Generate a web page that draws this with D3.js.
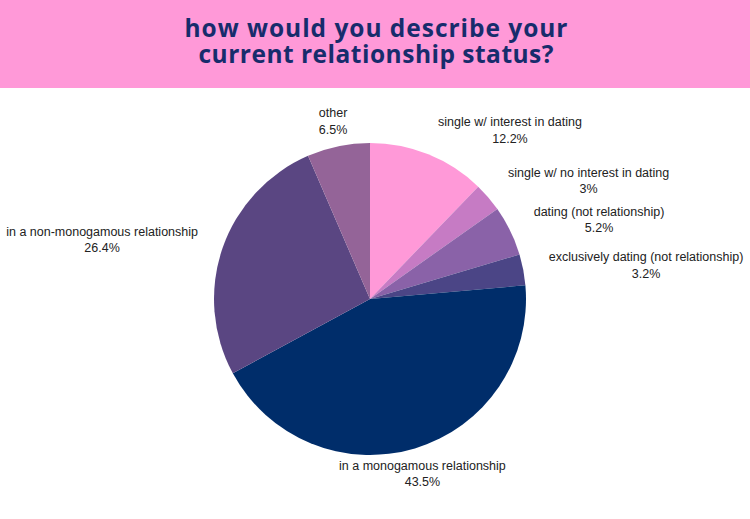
<!DOCTYPE html>
<html><head><meta charset="utf-8">
<script src="https://cdn.jsdelivr.net/npm/d3@7"></script>
<style>body{margin:0;background:#fff}svg{display:block}</style>
</head><body>
<svg id="c" width="750" height="519"></svg>
<script>
const titleLines = ["how would you describe your", "current relationship status?"];
const categories = ["single w/ interest in dating","single w/ no interest in dating","dating (not relationship)","exclusively dating (not relationship)","in a monogamous relationship","in a non-monogamous relationship","other"];
const values = [12.2, 3, 5.2, 3.2, 43.5, 26.4, 6.5];
const valueLabels = ["12.2%","3%","5.2%","3.2%","43.5%","26.4%","6.5%"];
const colors = ["#FF99D8","#C67BC4","#8A62A8","#4B4586","#002D6A","#5A4682","#946498"];

const svg = d3.select("#c");
const W = 750, H = 519;
svg.append("rect").attr("x",0).attr("y",0).attr("width",W).attr("height",88).attr("fill","#FF99D8");
const titleWidths = [383, 355];
svg.append("g").attr("font-family","'Open Sans', sans-serif").attr("font-weight",700)
  .attr("font-size",24.5).attr("fill","#172C6C")
  .selectAll("text").data(titleLines).join("text")
  .attr("text-anchor","middle").attr("x",W/2+1).attr("y",(d,i)=>37+i*26)
  .attr("textLength",(d,i)=>titleWidths[i]).attr("lengthAdjust","spacing")
  .text(d=>d);

const cx = 370, cy = 299, r = 156;
const data = categories.map((c,i)=>({c, v:values[i], l:valueLabels[i], col:colors[i]}));
const pie = d3.pie().value(d=>d.v).sort(null);
const arcs = pie(data);
const arc = d3.arc().innerRadius(0).outerRadius(r);
const g = svg.append("g").attr("transform",`translate(${cx},${cy})`);
g.selectAll("path").data(arcs).join("path").attr("d",arc).attr("fill",d=>d.data.col);

const lg = svg.append("g").attr("font-family","'Liberation Sans', Arial, sans-serif").attr("font-size",12.5).attr("fill","#222");
const labelR = r + 26;
arcs.forEach(a=>{
  const m = (a.startAngle+a.endAngle)/2;
  const s = Math.sin(m), co = Math.cos(m);
  const ax = cx + labelR*s, ay = cy - labelR*co;
  const t = lg.append("text").attr("text-anchor","middle");
  const t1 = t.append("tspan").text(a.data.c);
  const t2 = t.append("tspan").text(a.data.l);
  const w = Math.max(t1.node().getComputedTextLength(), t2.node().getComputedTextLength());
  const x = Math.abs(s) > 0.35 ? ax + Math.sign(s)*w/2 : ax;
  t1.attr("x",x).attr("y",ay-3.75);
  t2.attr("x",x).attr("y",ay+12.75);
});
</script>
</body></html>
